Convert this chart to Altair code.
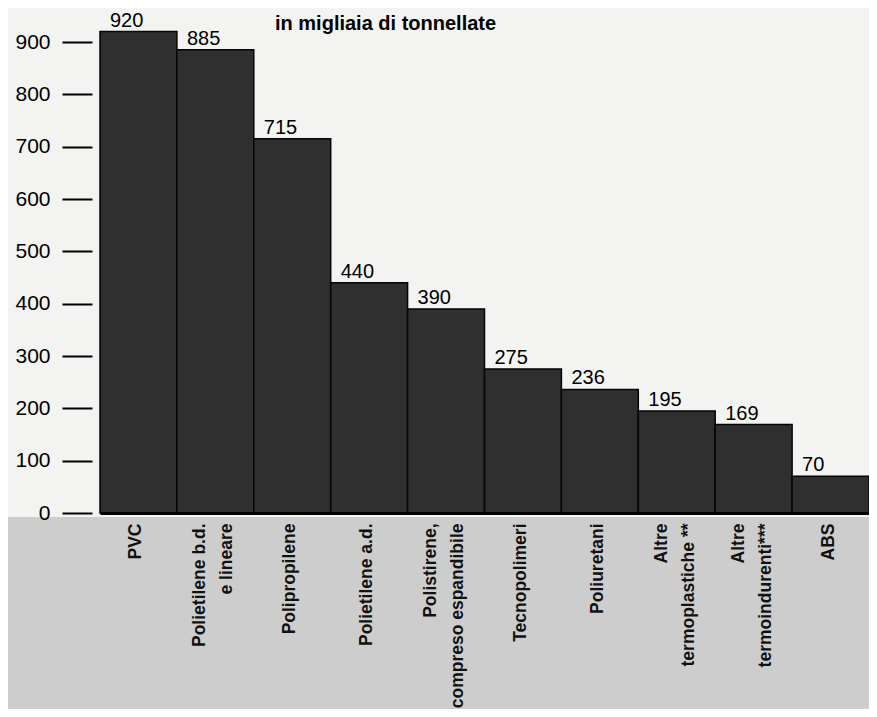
import altair as alt
import pandas as pd

categories = ["PVC", "Polietilene b.d.|e lineare", "Polipropilene", "Polietilene a.d.",
              "Polistirene,|compreso espandibile", "Tecnopolimeri", "Poliuretani",
              "Altre|termoplastiche **", "Altre|termoindurenti***", "ABS"]
values = [920, 885, 715, 440, 390, 275, 236, 195, 169, 70]
y_ticks = [0, 100, 200, 300, 400, 500, 600, 700, 800, 900]
title_text = "in migliaia di tonnellate"

df = pd.DataFrame({"cat": categories, "val": values})

W, H = 769, 505
FONT = "Liberation Sans"

x_enc = alt.X("cat:N", sort=categories,
              scale=alt.Scale(paddingInner=0, paddingOuter=0),
              axis=alt.Axis(title=None, labelAngle=-90, labelAlign="right", labelBaseline="middle",
                            labelExpr="split(datum.label, '|')", labelFont=FONT, labelFontWeight="bold",
                            labelFontSize=17.5, labelLineHeight=27, labelColor="#111", labelLimit=0,
                            labelOffset={"condition": {"test": "indexof(datum.value, '|') >= 0",
                                                       "value": -15}, "value": -2},
                            labelPadding=10, ticks=False, domain=True, domainColor="#000",
                            domainWidth=3, zindex=2))
y_enc = alt.Y("val:Q", scale=alt.Scale(domain=[0, 965], nice=False, zero=True),
              axis=alt.Axis(title=None, values=y_ticks, grid=False, domain=False,
                            tickSize=30, tickWidth=2, tickColor="#000", offset=8,
                            labelFont=FONT, labelFontSize=21, labelColor="#000",
                            labelPadding=12, zindex=2))

band = alt.Chart(pd.DataFrame({"b": [1]})).mark_rect(color="#cdcdcd").encode(
    x=alt.value(-92), x2=alt.value(W), y=alt.value(H + 4), y2=alt.value(H + 200))

bars = alt.Chart(df).mark_bar(color="#2f2f2f", stroke="#050505", strokeWidth=1.5).encode(
    x=x_enc, y=y_enc)

labels = alt.Chart(df).mark_text(align="left", baseline="alphabetic", dx=10, dy=-5,
                                 font=FONT, fontSize=20, color="#000").encode(
    x=alt.X("cat:N", sort=categories, bandPosition=0), y="val:Q", text="val:Q")

chart = alt.layer(band, bars, labels).properties(
    width=W, height=H,
    title=alt.TitleParams(title_text, font=FONT, fontSize=20, fontWeight="bold", color="#000",
                          anchor="start", dx=267, dy=50, baseline="bottom"),
    autosize=alt.AutoSizeParams(type="none"),
    padding={"left": 92, "top": 0, "right": 0, "bottom": 196},
    background="#f3f3f1",
).configure_view(strokeWidth=0)

chart.save("out.html", embed_options={"renderer": "svg", "actions": False})
